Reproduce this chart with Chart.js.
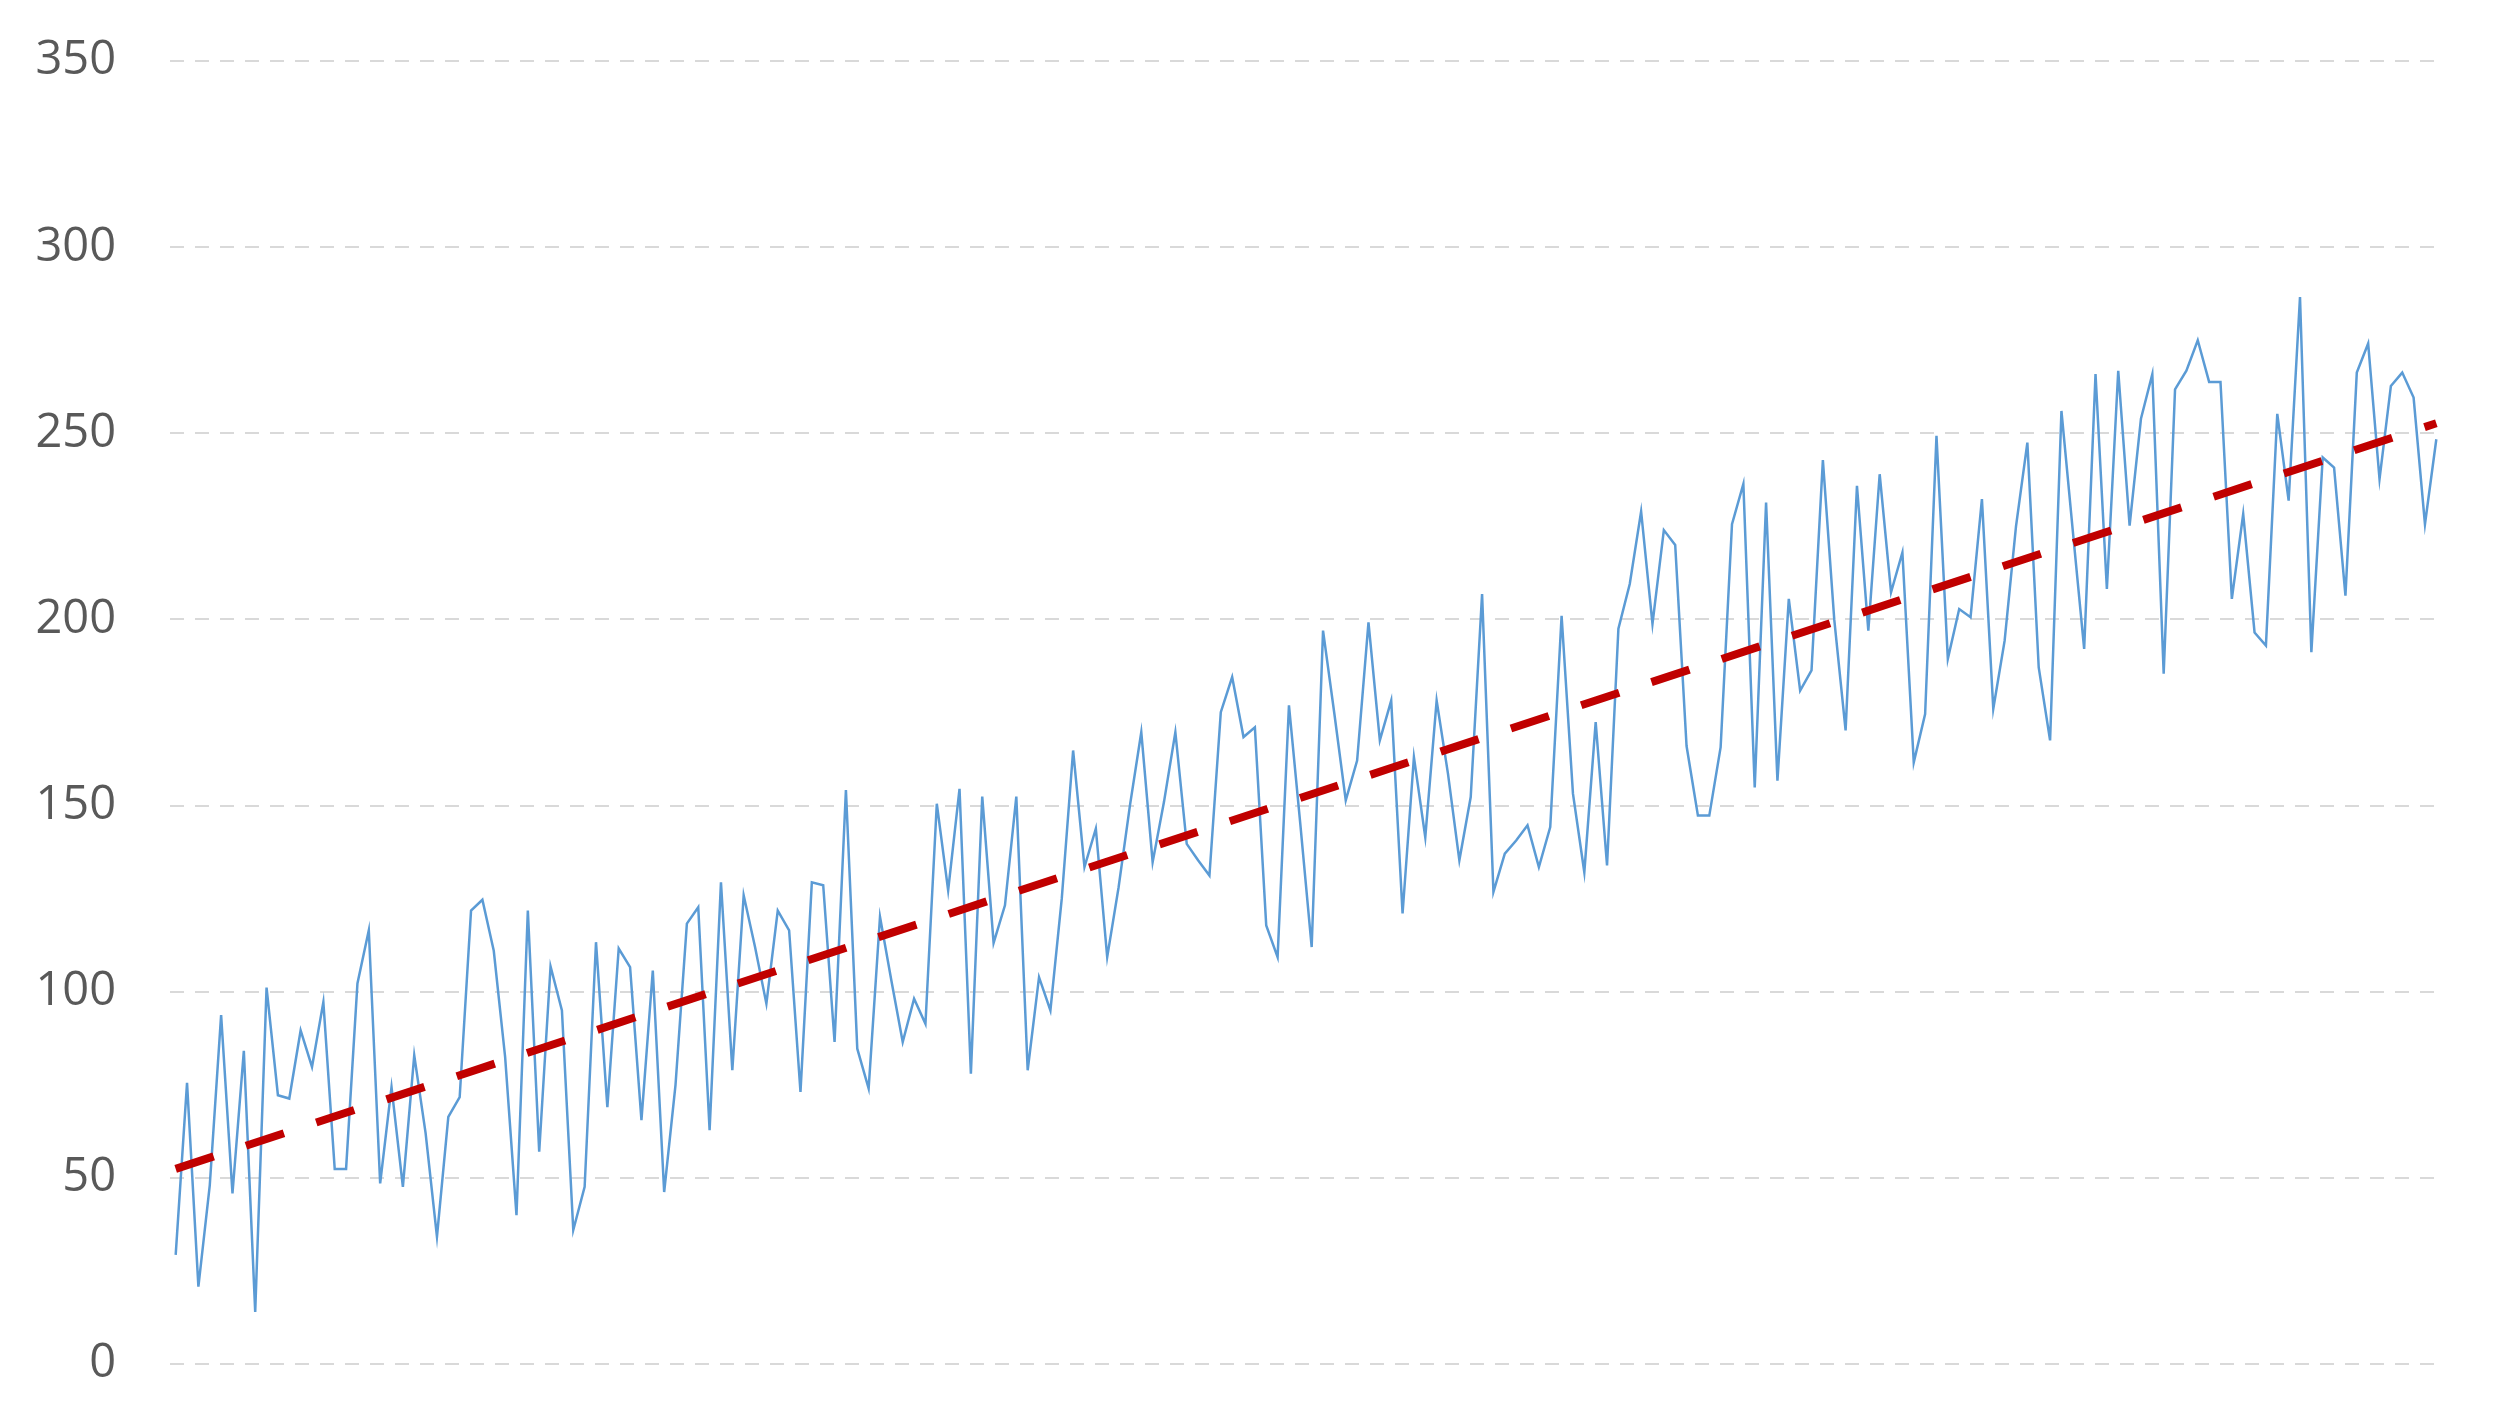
<!DOCTYPE html>
<html>
<head>
<meta charset="utf-8">
<script src="https://cdn.jsdelivr.net/npm/chart.js@4.4.1/dist/chart.umd.min.js"></script>
<style>
  html, body { margin: 0; padding: 0; background: #fff; }
  #wrap { width: 2515px; height: 1417px; }
</style>
</head>
<body>
<div id="wrap"><canvas id="chart" width="2515" height="1417"></canvas></div>
<script>
// series, one value per period
const values = [
  29.3, 75.5, 20.8, 48, 93.7, 45.8, 84.1, 14.0, 101.1, 72.2,
  71.3, 89.6, 79.8, 97.2, 52.4, 52.4, 102.2, 116.5, 48.5, 74.4,
  47.6, 82.9, 62, 34.2, 66.4, 71.7, 121.8, 124.7, 111, 82.5,
  40, 121.8, 57, 106.8, 95, 36, 47.6, 113.3, 69, 111.6,
  106.6, 65.5, 105.7, 46.2, 75, 118.3, 122.7, 62.8, 129.4, 78.9,
  125.9, 112, 96.8, 121.8, 116.5, 73.1, 129.4, 128.6, 86.5, 154.2,
  84.7, 74, 120.1, 103, 86.5, 98.1, 91.4, 150.5, 127.2, 154.5,
  78, 152.4, 113.1, 123.2, 152.4, 78.9, 103.9, 95, 125, 164.8,
  133.5, 143.8, 109.3, 128, 150, 169.7, 134.8, 151, 169.7, 139.7,
  135.3, 131.2, 175.1, 184.5, 168.4, 171, 117.8, 109.3, 176.9, 145,
  112, 197, 174.6, 151.4, 162.1, 199.2, 167.5, 178.2, 121, 163,
  141.5, 178.2, 158.5, 135.3, 152.3, 206.8, 126.8, 137.1, 140.6, 144.7,
  133.5, 144.2, 201, 153.2, 132.1, 172.4, 133.9, 197.5, 209.5, 229,
  198.8, 224, 220, 166, 147.3, 147.3, 165.7, 225.6, 236.4, 154.9,
  231.4, 156.7, 205.5, 180.9, 186.3, 242.8, 200, 170.2, 235.9, 197,
  239, 207.3, 218, 161.6, 174.6, 249.3, 189.4, 202.8, 200.6, 232.3,
  176, 194.3, 225, 247.5, 187.1, 167.5, 256, 223.8, 192.1, 265.9,
  208.2, 266.8, 225.2, 253.9, 265.9, 185.4, 261.8, 266.8, 275, 263.8,
  263.8, 205.5, 228.3, 196.5, 193, 255.2, 231.9, 286.6, 191.2, 243.5,
  240.8, 206.4, 266.3, 274.1, 237.7, 262.7, 266.3, 259.6, 225.6, 248.4
];

// linear trendline, ends
const trendStart = 52.4;
const trendEnd = 252.7;

const yMin = 0;
const yMax = 350;
const yStep = 50;

const labels = values.map((v, i) => i + 1);
const trend = values.map((v, i) => i === 0 ? trendStart : (i === values.length - 1 ? trendEnd : null));

// plot box in canvas pixels
const plotTop = 61, plotBottom = 1364, plotLeft = 170, plotRight = 2442;

// pins the plot area where it sits in the original
const pinArea = {
    id: 'pinArea',
    afterLayout(chart) {
        const area = chart.chartArea;
        area.top = plotTop;
        area.bottom = plotBottom;
        area.left = plotLeft;
        area.right = plotRight;
        area.width = plotRight - plotLeft;
        area.height = plotBottom - plotTop;

        const y = chart.scales.y;
        y.top = plotTop;
        y.bottom = plotBottom;
        y.height = plotBottom - plotTop;
        y.left = 0;
        y.right = plotLeft;
        y.width = plotLeft;
        y.configure();

        const x = chart.scales.x;
        x.left = plotLeft;
        x.right = plotRight;
        x.width = plotRight - plotLeft;
        x.configure();
    }
};

const ctx = document.getElementById('chart');
new Chart(ctx, {
    type: 'line',
    data: {
        labels: labels,
        datasets: [
            {
                label: 'Series',
                data: values,
                borderColor: '#5B9BD5',
                borderWidth: 2.5,
                pointRadius: 0,
                tension: 0,
                borderJoinStyle: 'miter',
                order: 1
            },
            {
                label: 'Trend',
                data: trend,
                spanGaps: true,
                borderColor: '#C00000',
                borderWidth: 8,
                borderDash: [40, 34],
                borderCapStyle: 'butt',
                pointRadius: 0,
                order: 0
            }
        ]
    },
    options: {
        responsive: false,
        animation: false,
        devicePixelRatio: 1,
        layout: { padding: { top: 61, bottom: 53, left: 0, right: 73 } },
        plugins: {
            legend: { display: false },
            tooltip: { enabled: false }
        },
        scales: {
            x: { type: 'category', offset: true, display: false },
            y: {
                min: yMin,
                max: yMax,
                ticks: {
                    stepSize: yStep,
                    padding: 54,
                    color: '#595959',
                    font: { family: 'Open Sans', size: 47, lineHeight: 0.2 }
                },
                border: { display: false, dash: [14, 11] },
                grid: { color: '#D9D9D9', lineWidth: 2, drawTicks: false },
                afterFit: scale => { scale.width = 170; }
            }
        }
    },
    plugins: [pinArea]
});
</script>
</body>
</html>
